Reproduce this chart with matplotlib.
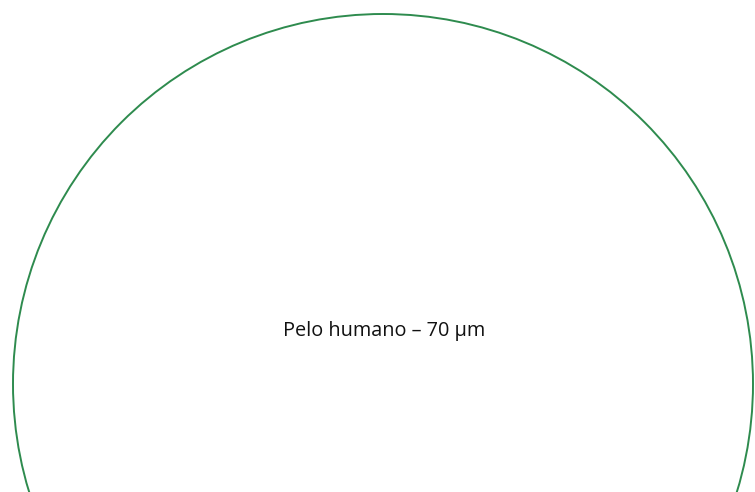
import matplotlib
matplotlib.use("Agg")
import matplotlib.pyplot as plt
from matplotlib.patches import Circle

# Data
labels = ["Pelo humano – 70 µm"]
diameters_um = [70]

W, H, DPI = 755, 492, 100
fig = plt.figure(figsize=(W / DPI, H / DPI), dpi=DPI)
ax = fig.add_axes([0, 0, 1, 1])

px_per_um = 370 / 35.0
cx_px, cy_px = 383, 384
ax.set_xlim(-cx_px / px_per_um, (W - cx_px) / px_per_um)
ax.set_ylim((H - cy_px) / px_per_um * -1, cy_px / px_per_um)
ax.set_aspect("equal")
ax.axis("off")

for lab, d in zip(labels, diameters_um):
    ax.add_patch(Circle((0, 0), d / 2, fill=False, edgecolor="#2e8b4e", linewidth=1.4))
    ax.text(1.5 / px_per_um, (cy_px - 331) / px_per_um, lab, ha="center", va="center",
            fontsize=14.3, family=["Open Sans", "DejaVu Sans"], color="#111111")

fig.savefig("out.png", dpi=DPI)
